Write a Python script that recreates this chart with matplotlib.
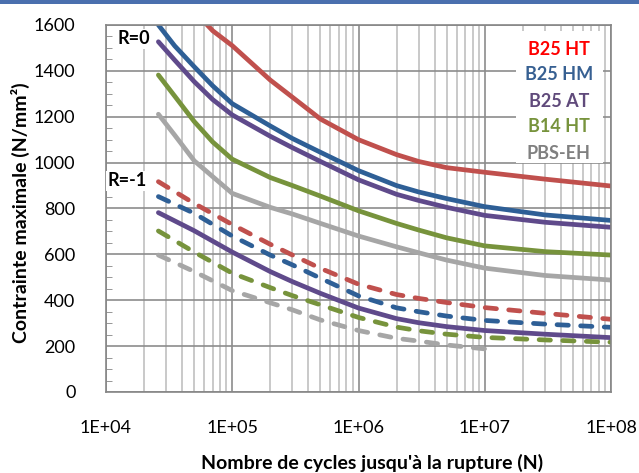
import matplotlib.pyplot as plt
from matplotlib.patches import Rectangle
from matplotlib.ticker import FixedLocator, MultipleLocator, LogLocator, NullFormatter

plt.rcParams['font.family'] = ['Lato', 'DejaVu Sans']

# cycles to failure (N)
cycles_r0 = [2.6e4, 3.5e4, 5e4, 7e4, 1e5, 2e5, 3e5, 5e5, 1e6, 2e6, 3e6, 5e6, 1e7, 3e7, 1e8]
cycles_r1 = [2.6e4, 5e4, 1e5, 2e5, 3e5, 5e5, 1e6, 2e6, 3e6, 5e6, 1e7, 3e7, 1e8]
cycles_r1_eh = [2.6e4, 5e4, 1e5, 2e5, 3e5, 5e5, 1e6, 2e6, 3e6, 5e6, 1e7]

# R = 0 (solid lines), max stress N/mm2
b25ht_r0 = [1800, 1740, 1660, 1575, 1510, 1360, 1285, 1190, 1100, 1035, 1005, 978, 958, 928, 898]
b25hm_r0 = [1600, 1509, 1418, 1335, 1257, 1160, 1105, 1045, 965, 900, 872, 843, 808, 772, 748]
b25at_r0 = [1527, 1447, 1353, 1275, 1208, 1115, 1065, 1005, 925, 862, 835, 805, 770, 740, 718]
b14ht_r0 = [1382, 1290, 1179, 1090, 1015, 935, 900, 854, 790, 735, 706, 672, 637, 612, 597]
pbseh_r0 = [1211, 1120, 1008, 939, 866, 805, 776, 735, 680, 633, 607, 575, 540, 508, 488]

# R = -1
b25ht_r1 = [917, 822, 730, 644, 597, 539, 470, 425, 408, 390, 368, 343, 317]
b25hm_r1 = [852, 779, 680, 597, 554, 496, 419, 367, 350, 331, 312, 296, 282]
b25at_r1 = [782, 703, 610, 525, 481, 430, 366, 320, 302, 285, 268, 252, 237]
b14ht_r1 = [702, 610, 518, 455, 420, 380, 325, 283, 267, 252, 238, 227, 217]
pbseh_r1 = [597, 525, 442, 389, 358, 314, 268, 234, 222, 205, 188]

names = ["B25 HT", "B25 HM", "B25 AT", "B14 HT", "PBS-EH"]
line_colors = ["#C0504D", "#2E5F96", "#5F4A8B", "#77933C", "#A6A6A6"]
text_colors = ["#FF0000", "#376092", "#604A7B", "#77933C", "#808080"]

x_ticks = [1e4, 1e5, 1e6, 1e7, 1e8]
x_labels = ["1E+04", "1E+05", "1E+06", "1E+07", "1E+08"]

fig = plt.figure(figsize=(6.39, 4.73), dpi=100)
ax = fig.add_axes([106/639, 1-392/473, 505/639, 367/473])

# blue strip along the top edge
fig.patches.append(Rectangle((0, 1-4/473), 1, 4/473, transform=fig.transFigure,
                             facecolor="#4A6FAE", edgecolor="none"))

ax.set_xscale("log")
ax.set_xlim(1e4, 1e8)
ax.set_ylim(0, 1600)

ax.xaxis.set_major_locator(FixedLocator(x_ticks))
ax.set_xticklabels(x_labels)
ax.xaxis.set_minor_locator(LogLocator(base=10, subs=range(2, 10)))
ax.xaxis.set_minor_formatter(NullFormatter())
ax.yaxis.set_major_locator(MultipleLocator(200))
ax.yaxis.set_minor_locator(MultipleLocator(50))

ax.grid(which="major", color="#8C8C8C", lw=1.2)
ax.grid(which="minor", axis="x", color="#C0C0C0", lw=1.2)
ax.set_axisbelow(True)

ax.tick_params(which="major", length=0, labelsize=13)
ax.tick_params(axis="y", which="major", pad=22)
ax.tick_params(axis="x", which="major", pad=20)
ax.tick_params(axis="x", which="minor", length=0)
ax.tick_params(axis="y", which="minor", direction="in", length=4, color="#868686")
for s in ax.spines.values():
    s.set_color("#868686")
    s.set_linewidth(1.2)

r0 = [b25ht_r0, b25hm_r0, b25at_r0, b14ht_r0, pbseh_r0]
r1 = [b25ht_r1, b25hm_r1, b25at_r1, b14ht_r1, pbseh_r1]

for vals, c in zip(r0, line_colors):
    ax.plot(cycles_r0, vals, color=c, lw=3.4, solid_capstyle="round",
            solid_joinstyle="round", zorder=2)

for i, (vals, c) in enumerate(zip(r1, line_colors)):
    xs = cycles_r1_eh if i == 4 else cycles_r1
    if i == 2:
        # B25 AT at R=-1 is drawn solid in the original
        ax.plot(xs, vals, color=c, lw=3.4, solid_capstyle="round",
                solid_joinstyle="round", zorder=2)
    else:
        ax.plot(xs, vals, color=c, lw=3.4, dashes=(2.4, 2.6),
                dash_capstyle="round", zorder=2)

# legend box (text only)
ax.add_patch(Rectangle((0.812, 0.624), 0.172, 0.36, transform=ax.transAxes,
                       facecolor="white", edgecolor="none", zorder=2.5))
legend_y = [0.932, 0.864, 0.791, 0.723, 0.650]
for name, c, y in zip(names, text_colors, legend_y):
    ax.text(0.897, y, name, color=c, fontsize=13, fontweight="bold",
            ha="center", va="center", transform=ax.transAxes, zorder=3)

ax.text(0.0554, 0.963, "R=0", fontsize=13, fontweight="bold", ha="center", va="center",
        transform=ax.transAxes, zorder=3,
        bbox=dict(facecolor="white", edgecolor="none", pad=1))
ax.text(0.0426, 0.575, "R=-1", fontsize=13, fontweight="bold", ha="center", va="center",
        transform=ax.transAxes, zorder=3,
        bbox=dict(facecolor="white", edgecolor="none", pad=1))

fig.text(20/639, 1-213/473, "Contrainte maximale (N/mm²)", rotation=90,
         fontsize=14, fontweight="bold", ha="center", va="center")
fig.text(372/639, 1-463/473, "Nombre de cycles jusqu'à la rupture (N)",
         fontsize=14, fontweight="bold", ha="center", va="center")

fig.savefig("out.png", dpi=100)
